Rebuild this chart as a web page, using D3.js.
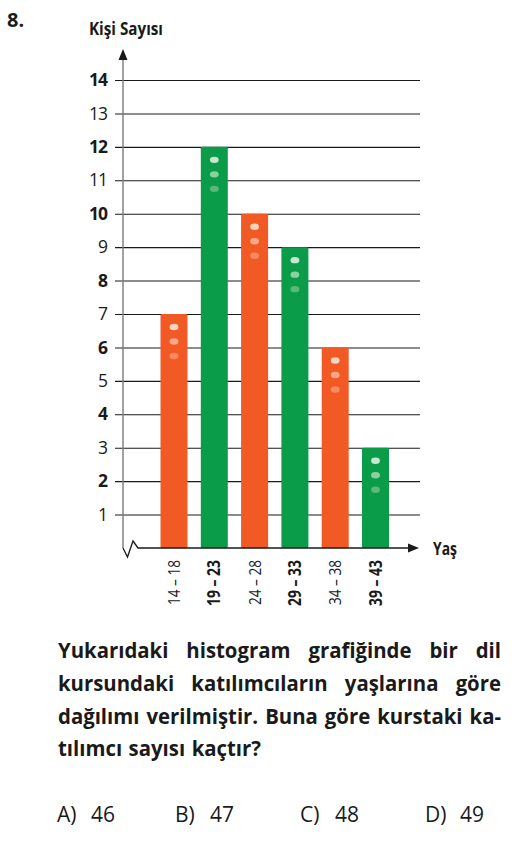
<!DOCTYPE html>
<html><head><meta charset="utf-8">
<script src="https://cdn.jsdelivr.net/npm/d3@7/dist/d3.min.js"></script>
<style>
html,body{margin:0;padding:0;background:#fff;}
svg{display:block;}
text{font-family:"Open Sans","Noto Sans",sans-serif;fill:#1a1a1a;}
</style></head>
<body>
<svg id="c" width="523" height="842"></svg>
<script>
const categories = ["14 – 18","19 – 23","24 – 28","29 – 33","34 – 38","39 – 43"];
const values = [7,12,10,9,6,3];
const yTicks = [1,2,3,4,5,6,7,8,9,10,11,12,13,14];
const questionLines = [
  "Yukarıdaki histogram grafiğinde bir dil",
  "kursundaki katılımcıların yaşlarına göre",
  "dağılımı verilmiştir. Buna göre kurstaki ka-",
  "tılımcı sayısı kaçtır?"
];
const optionLetters = ["A)","B)","C)","D)"];
const optionValues = ["46","47","48","49"];

const ORANGE = "#f15a24", GREEN = "#0b9c49";
const dotColors = {
  o: ["#fcd3bb","#f9a985","#f68a5c"],
  g: ["#c7e7cf","#8dcf9f","#5cb877"]
};

const svg = d3.select("#c");
const y = d3.scaleLinear().domain([0,14]).range([548,80]);
const x = d3.scaleBand().domain(categories).range([153.85,395.65]).paddingInner(0.33).paddingOuter(0.165);

// number + title
svg.append("text").attr("x",7).attr("y",27).attr("font-size",20).attr("font-weight",700).text("8.");
svg.append("text").attr("x",89).attr("y",35).attr("font-size",18).attr("font-weight",700)
  .attr("textLength",74).attr("lengthAdjust","spacingAndGlyphs").text("Kişi Sayısı");

// gridlines + tick labels
const gAxis = svg.append("g").attr("transform","translate(115,0)")
  .call(d3.axisLeft(y).tickValues(yTicks).tickSize(-305).tickPadding(8).tickFormat(d3.format("d")));
gAxis.select(".domain").remove();
gAxis.selectAll(".tick line").attr("stroke","#1a1a1a").attr("stroke-width",1.1);
gAxis.selectAll(".tick text")
  .attr("font-family",'"Open Sans",sans-serif')
  .attr("font-size",17.5)
  .attr("font-weight",d=>d%2===0?700:400)
  .attr("fill","#1a1a1a")
  .attr("letter-spacing",-1);

// bars
const bars = svg.append("g");
bars.selectAll("rect").data(values).join("rect")
  .attr("x",(d,i)=>x(categories[i]))
  .attr("y",d=>y(d))
  .attr("width",x.bandwidth())
  .attr("height",d=>y(0)-y(d))
  .attr("rx",1.5)
  .attr("fill",(d,i)=>i%2===0?ORANGE:GREEN);

// dots
values.forEach((v,i)=>{
  const cx = x(categories[i]) + x.bandwidth()/2;
  const cols = i%2===0?dotColors.o:dotColors.g;
  [13,27.5,42].forEach((off,k)=>{
    svg.append("ellipse").attr("cx",cx).attr("cy",y(v)+off).attr("rx",4.4).attr("ry",3.2)
      .attr("fill",cols[k]);
  });
});

// y axis
svg.append("line").attr("x1",123).attr("x2",123).attr("y1",y(0)).attr("y2",58)
  .attr("stroke","#7a7a7a").attr("stroke-width",1.4);
svg.append("path").attr("d","M123,49 L127.5,60 L118.5,60 Z").attr("fill","#1a1a1a");

// x axis with break
svg.append("path")
  .attr("d",`M123,${y(0)} L127.5,557 L133,541 L138,${y(0)} L410,${y(0)}`)
  .attr("fill","none").attr("stroke","#1a1a1a").attr("stroke-width",1.3);
svg.append("path").attr("d",`M419,${y(0)} L408,${y(0)-4.5} L408,${y(0)+4.5} Z`).attr("fill","#1a1a1a");
svg.append("text").attr("x",433).attr("y",555).attr("font-size",17).attr("font-weight",700)
  .attr("textLength",24).attr("lengthAdjust","spacingAndGlyphs").text("Yaş");

// x labels
svg.append("g").selectAll("text").data(categories).join("text")
  .attr("transform",d=>`translate(${x(d)+x.bandwidth()/2+6},560) rotate(-90)`)
  .attr("text-anchor","end")
  .attr("font-size",17)
  .attr("font-weight",(d,i)=>i%2===1?700:400)
  .attr("textLength",(d,i)=>i%2===1?46:45)
  .attr("lengthAdjust","spacingAndGlyphs")
  .text(d=>d);

// question paragraph (justified, compressed like the reference face)
const left = 58, right = 501, lineY = [658,691,724,756];
const FS = 22;
const lineData = questionLines.map((line,li)=>{
  const words = line.split(" ");
  const g = svg.append("g");
  const ts = words.map(w=>g.append("text").attr("y",lineY[li]).attr("font-size",FS).attr("font-weight",700).text(w));
  const widths = ts.map(t=>t.node().getComputedTextLength());
  return {words, ts, widths, total: widths.reduce((a,b)=>a+b,0)};
});
// scale chosen so that the tight third line fits with natural word gaps
const ref = lineData[2];
const baseScale = (right-left-7*(ref.words.length-1))/ref.total;
lineData.forEach((L,li)=>{
  const justify = li < lineData.length-1;
  let scale = baseScale;
  let gap = justify ? (right-left-L.total*scale)/(L.words.length-1) : 6.5;
  if (gap < 5) { scale = (right-left-5*(L.words.length-1))/L.total; gap = 5; }
  let cx = left;
  L.ts.forEach((t,k)=>{
    const w = L.widths[k]*scale;
    t.attr("x",cx).attr("textLength",w).attr("lengthAdjust","spacingAndGlyphs");
    cx += w + gap;
  });
});

// options
const optX = [57,175,300,425], numX = [91,210,335,460];
optionLetters.forEach((l,i)=>{
  svg.append("text").attr("x",optX[i]).attr("y",822).attr("font-size",21).text(l);
  svg.append("text").attr("x",numX[i]).attr("y",822).attr("font-size",21).text(optionValues[i]);
});
</script>
</body></html>
